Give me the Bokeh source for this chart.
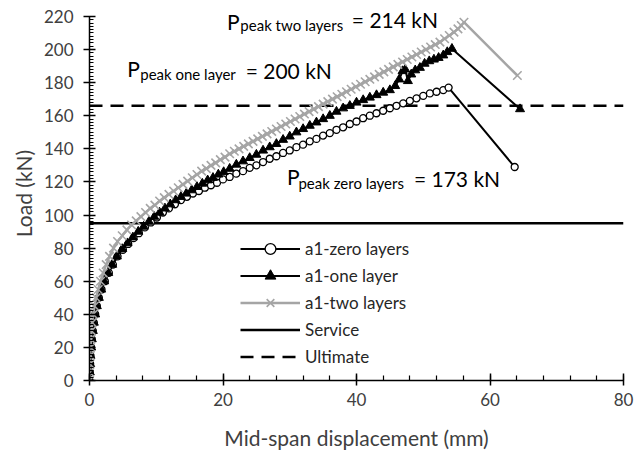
from bokeh.plotting import figure
from bokeh.models import Range1d, SingleIntervalTicker, Legend, LegendItem, Label
from bokeh.embed import file_html
from bokeh.resources import INLINE

# ---------------- data ----------------
zero_x = [0, 0.05, 0.1, 0.15, 0.25, 0.35, 0.5, 0.65, 0.85, 1.1, 1.4, 1.8, 2.3, 2.9, 3.5, 4.2, 5.0, 5.8,
          6.6, 7.4, 8.3, 9.2, 10.1, 11.0, 11.9, 12.8, 13.7, 14.6, 15.5, 16.4, 17.3, 18.2, 19.1, 20.0,
          21.0, 22.0, 23.0, 24.0, 25.0, 26.0, 27.0, 28.0, 29.0, 30.0, 31.0, 32.0, 33.0, 34.0, 35.0,
          36.0, 37.0, 38.0, 39.0, 40.0, 41.0, 42.0, 43.0, 44.0, 45.0, 46.0, 47.0, 48.0, 49.0, 50.0,
          51.0, 52.0, 53.0, 53.8, 63.7]
zero_y = [0, 5, 10, 15, 20, 25, 30, 35, 40, 45, 50, 55, 60, 65, 70, 75, 79, 82.5,
          86, 89, 92.5, 95.5, 98.5, 101.5, 104, 106.5, 109, 111, 113, 114.5, 116.5, 118, 119.5, 121.5,
          123, 125, 126.5, 128.5, 130, 132, 134, 135.5, 137.5, 139, 141, 142.5, 144.5, 146, 148,
          149.5, 151.5, 153, 155, 156.5, 158.5, 160, 161.5, 163, 164.5, 166, 167.5, 169, 170.5, 172,
          173.5, 174.5, 175.5, 177, 129]

one_x = [0, 0.05, 0.1, 0.15, 0.25, 0.35, 0.5, 0.65, 0.85, 1.1, 1.4, 1.75, 2.2, 2.8, 3.4, 4.1, 4.9, 5.7,
         6.5, 7.3, 8.1, 8.9, 9.7, 10.5, 11.3, 12.1, 12.9, 13.7, 14.5, 15.3, 16.1, 16.9, 17.7, 18.5,
         19.3, 20.1, 21.0, 22.0, 23.0, 24.0, 25.0, 26.0, 27.0, 28.0, 29.0, 30.0, 31.0, 32.0, 33.0,
         34.0, 35.0, 36.0, 37.0, 38.0, 39.0, 40.0, 41.0, 42.0, 43.0, 44.0, 45.0, 45.8, 46.4, 46.9,
         47.3, 47.7, 48.2, 48.8, 49.5, 50.2, 50.9, 51.6, 52.3, 53.0, 53.6, 54.3, 64.5]
one_y = [0, 5, 10, 15, 20, 25, 30, 35, 40, 45, 50, 55, 60, 65, 70, 75, 79.5, 83,
         86.5, 90, 93, 96, 99, 101.5, 104, 106.5, 109, 111, 113, 115, 117, 119, 121, 122.5,
         124.5, 126, 128, 130.5, 132.5, 134.5, 136.5, 139, 141, 143, 145.5, 147.5, 150, 152, 154,
         156, 158, 160, 162.5, 164.5, 166, 168, 169.5, 171, 172.5, 174, 175.5, 178, 182, 187,
         188, 181, 185, 187.5, 189, 191.5, 193, 194, 195, 196.5, 198.5, 200.5, 164]

two_x = [0, 0.03, 0.06, 0.1, 0.15, 0.2, 0.3, 0.4, 0.55, 0.75, 1.0, 1.3, 1.65, 2.05, 2.5, 3.0, 3.6,
         4.2, 4.9, 5.6, 6.3, 7.0, 7.7, 8.4, 9.1, 9.8, 10.5, 11.2, 11.9, 12.6, 13.3, 14.0, 14.7,
         15.4, 16.1, 16.8, 17.5, 18.2, 18.9, 19.6, 20.3, 21.0, 21.7, 22.4, 23.1, 23.8, 24.5, 25.2,
         25.9, 26.6, 27.3, 28.0, 28.7, 29.4, 30.1, 30.8, 31.5, 32.2, 32.9, 33.6, 34.3, 35.0, 35.7,
         36.4, 37.1, 37.8, 38.5, 39.2, 39.9, 40.6, 41.3, 42.0, 42.7, 43.4, 44.1, 44.8, 45.5, 46.2,
         46.9, 47.6, 48.3, 49.0, 49.7, 50.4, 51.1, 51.8, 52.5, 53.2, 53.9, 54.6, 55.2, 55.7, 56.1,
         64.1]
two_y = [0, 5, 10, 15, 20, 25, 30, 35, 40, 45, 50, 55, 60, 65, 70, 75, 80,
         84, 87.5, 91, 94, 96.5, 99, 101.5, 104, 106, 108.5, 110.5, 112.5, 114.5, 116.5, 118.5, 120.5,
         122.5, 124.5, 126.5, 128, 130, 131.5, 133.5, 135, 137, 138.5, 140, 141.5, 143, 144.5, 146,
         147.5, 149, 150.5, 152, 153.5, 155, 156.5, 158, 159.5, 161, 162.5, 164, 165.5, 167, 168.5,
         170, 171.5, 173, 174.5, 176, 177.5, 179, 180.5, 182, 183.5, 185, 186.5, 188, 189.5, 191,
         192.5, 194, 195.5, 197, 198.5, 200, 201.5, 203, 204.5, 206.5, 208.5, 210.5, 212.5, 214.5, 216.5,
         184.3]

limit_x = [0, 80]
service_load = 95
ultimate_load = 166

series_names = ["a1-zero layers", "a1-one layer", "a1-two layers", "Service", "Ultimate"]

# annotations
ann_text = ["P", "peak two layers", "= 214 kN",
            "P", "peak one layer", "= 200 kN",
            "P", "peak zero layers", "= 173 kN"]
ann_x = [20.6, 22.6, 39.3, 5.65, 7.6, 23.4, 29.6, 31.3, 48.6]
ann_y = [216.9, 215.0, 218.2, 188.5, 185.5, 187.3, 123.3, 119.6, 122.1]
ann_size = ["21px", "15px", "21px", "21px", "15px", "21px", "21px", "15px", "21px"]

FONT = "Lato"
TXT = "#404040"

p = figure(width=643, height=456, output_backend="svg", toolbar_location=None,
           x_range=Range1d(0, 80), y_range=Range1d(0, 226),
           min_border_left=89, min_border_right=20, min_border_top=6, min_border_bottom=76)
p.outline_line_color = None
p.grid.visible = False
p.background_fill_color = "white"
p.border_fill_color = "white"

# axes
p.xaxis.ticker = SingleIntervalTicker(interval=20, num_minor_ticks=5)
p.yaxis.ticker = SingleIntervalTicker(interval=20, num_minor_ticks=10)
p.yaxis.bounds = (0, 220)
for ax in (p.xaxis, p.yaxis):
    ax.axis_line_color = "black"
    ax.axis_line_width = 1.5
    ax.major_tick_line_color = "black"
    ax.major_tick_line_width = 1.5
    ax.minor_tick_line_color = "black"
    ax.minor_tick_line_width = 1.2
    ax.major_label_text_font = FONT
    ax.major_label_text_font_size = "17px"
    ax.major_label_text_color = TXT
    ax.axis_label_text_font = FONT
    ax.axis_label_text_font_size = "21px"
    ax.axis_label_text_font_style = "normal"
    ax.axis_label_text_color = TXT
p.xaxis.major_tick_in = 7
p.xaxis.major_tick_out = 5
p.xaxis.minor_tick_in = 5
p.xaxis.minor_tick_out = 0
p.xaxis.major_label_standoff = 7
p.xaxis.axis_label = "Mid-span displacement (mm)"
p.xaxis.axis_label_standoff = 16
p.yaxis.major_tick_in = 6
p.yaxis.major_tick_out = 6
p.yaxis.minor_tick_in = 4
p.yaxis.minor_tick_out = 0
p.yaxis.major_label_standoff = 10
p.yaxis.axis_label = "Load (kN)"
p.yaxis.axis_label_standoff = 5

# limit lines
svc = p.line(limit_x, [service_load] * 2, line_color="black", line_width=2.5)
ult = p.line(limit_x, [ultimate_load] * 2, line_color="black", line_width=2.5, line_dash="13 8")

# series
l0 = p.line(zero_x, zero_y, line_color="black", line_width=2)
m0 = p.scatter(zero_x, zero_y, marker="circle", size=7, line_color="black", line_width=1.3,
               fill_color="white")
l1 = p.line(one_x, one_y, line_color="black", line_width=2)
m1 = p.scatter(one_x, one_y, marker="triangle", size=9, line_color="black", fill_color="black")
l2 = p.line(two_x, two_y, line_color="#A5A5A5", line_width=2.5)
m2 = p.scatter(two_x, two_y, marker="x", size=12, line_color="#A5A5A5", line_width=1.6)

# annotations
for t, xv, yv, fs in zip(ann_text, ann_x, ann_y, ann_size):
    p.add_layout(Label(x=xv, y=yv, x_units="data", y_units="data", text=t,
                       text_font=FONT, text_font_size=fs, text_color="black",
                       text_baseline="alphabetic", text_align="left"))

legend = Legend(items=[
    LegendItem(label=series_names[0], renderers=[l0, m0]),
    LegendItem(label=series_names[1], renderers=[l1, m1]),
    LegendItem(label=series_names[2], renderers=[l2, m2]),
    LegendItem(label=series_names[3], renderers=[svc]),
    LegendItem(label=series_names[4], renderers=[ult]),
], location=(151, 10), orientation="vertical")
legend.background_fill_alpha = 0
legend.border_line_color = None
legend.padding = 0
legend.margin = 0
legend.spacing = 0
legend.glyph_width = 60
legend.glyph_height = 27
legend.label_height = 27
legend.label_standoff = 5
legend.label_text_font = FONT
legend.label_text_font_size = "17px"
legend.label_text_color = "#262626"
p.add_layout(legend, "center")

open("out.html", "w").write(file_html(p, INLINE))
